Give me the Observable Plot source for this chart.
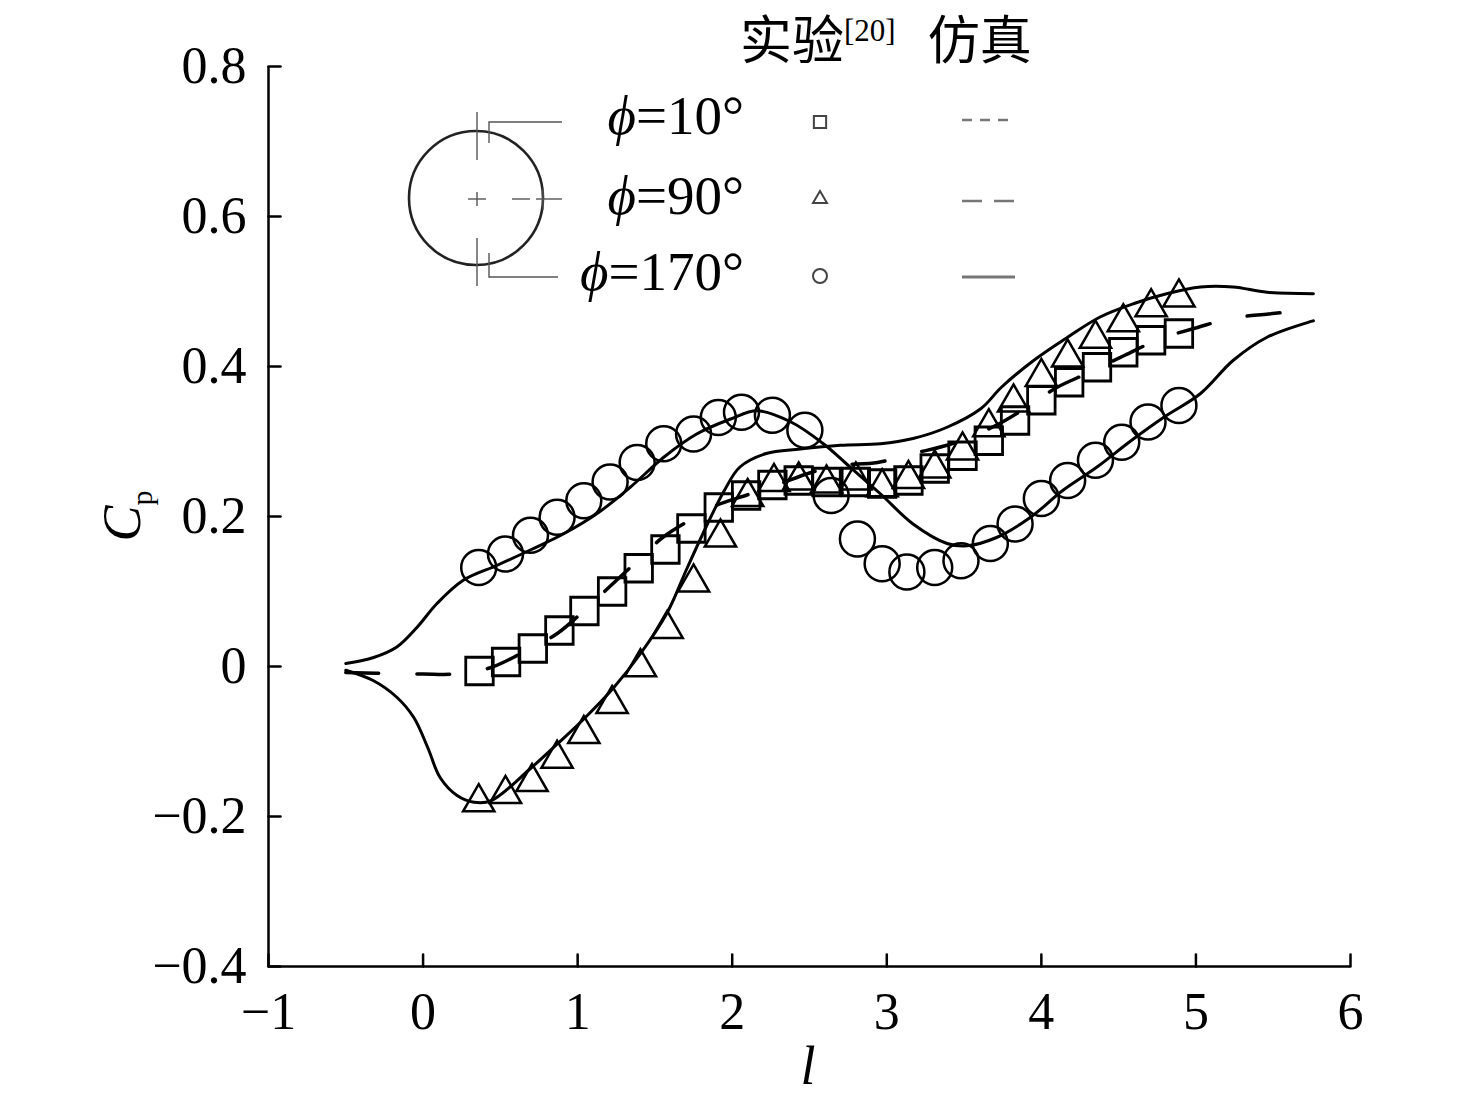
<!DOCTYPE html>
<html><head><meta charset="utf-8">
<script src="https://cdn.jsdelivr.net/npm/d3@7"></script>
<script src="https://cdn.jsdelivr.net/npm/@observablehq/plot@0.6"></script>
<style>body{margin:0;background:#fff} #chart svg{display:block}</style>
</head><body><div id="chart"></div>
<script>
// ---- tick values ----
const xTicks = [-1, 0, 1, 2, 3, 4, 5, 6];
const yTicks = [-0.4, -0.2, 0, 0.2, 0.4, 0.6, 0.8];

// ---- legend / series labels ----
const seriesLabels = ["ϕ=10°", "ϕ=90°", "ϕ=170°"];
const headerExp = "实验", headerRef = "[20]", headerSim = "仿真";

// ---- experiment [20]: phi = 10° (squares) ----
const expL10 = [0.365,0.537,0.71,0.882,1.044,1.223,1.395,1.568,1.736,1.913,2.09,2.26,2.43,2.61,2.80,2.97,3.14,3.31,3.49,3.66,3.83,4.00,4.18,4.36,4.53,4.71,4.89];
const expCp10 = [-0.006,0.006,0.024,0.048,0.074,0.100,0.131,0.156,0.184,0.212,0.228,0.242,0.248,0.246,0.246,0.244,0.248,0.264,0.281,0.301,0.328,0.355,0.379,0.399,0.419,0.435,0.444];

// ---- experiment [20]: phi = 90° (triangles) ----
const expL90 = [0.36,0.533,0.705,0.867,1.04,1.223,1.406,1.579,1.75,1.924,2.10,2.27,2.43,2.61,2.80,2.97,3.14,3.31,3.49,3.66,3.82,4.00,4.17,4.35,4.53,4.71,4.89];
const expCp90 = [-0.181,-0.170,-0.154,-0.123,-0.090,-0.050,-0.001,0.050,0.112,0.172,0.226,0.246,0.248,0.244,0.248,0.239,0.250,0.264,0.288,0.319,0.352,0.386,0.412,0.437,0.459,0.479,0.492];

// ---- experiment [20]: phi = 170° (circles) ----
const expL170 = [0.36,0.533,0.695,0.867,1.04,1.21,1.385,1.557,1.75,1.91,2.06,2.26,2.47,2.64,2.81,2.97,3.13,3.31,3.48,3.67,3.83,4.00,4.17,4.35,4.52,4.69,4.89];
const expCp170 = [0.132,0.150,0.175,0.199,0.221,0.246,0.272,0.297,0.310,0.332,0.339,0.335,0.315,0.228,0.170,0.137,0.126,0.132,0.141,0.164,0.190,0.224,0.248,0.275,0.299,0.326,0.348];

// ---- simulation: phi = 10° (dashed) ----
const simL10 = [-0.5,-0.3,0,0.2,0.43,0.63,0.868,1.10,1.33,1.55,1.75,1.9,2.1,2.3,2.5,2.68,2.94,3.17,3.39,3.56,3.73,3.9,4.1,4.31,4.54,4.77,5.01,5.22,5.47,5.72];
const simCp10 = [-0.008,-0.009,-0.010,-0.010,-0.002,0.017,0.044,0.086,0.130,0.172,0.198,0.215,0.229,0.243,0.258,0.268,0.272,0.284,0.295,0.308,0.324,0.345,0.372,0.392,0.415,0.437,0.452,0.464,0.470,0.475];

// ---- simulation: phi = 90° (solid) ----
const simL90 = [-0.5,-0.32,-0.17,-0.06,0.03,0.11,0.22,0.33,0.44,0.695,0.87,1.04,1.234,1.406,1.58,1.71,1.84,1.95,2.05,2.22,2.44,2.70,2.96,3.17,3.39,3.61,3.74,3.95,4.17,4.38,4.60,4.81,5.03,5.24,5.46,5.76];
const simCp90 = [-0.005,-0.019,-0.041,-0.068,-0.108,-0.148,-0.172,-0.181,-0.179,-0.136,-0.103,-0.070,-0.028,0.017,0.072,0.132,0.190,0.235,0.266,0.284,0.290,0.295,0.297,0.304,0.319,0.344,0.372,0.408,0.439,0.466,0.484,0.497,0.506,0.506,0.499,0.497];

// ---- simulation: phi = 170° (solid) ----
const simL170 = [-0.5,-0.32,-0.17,-0.04,0.09,0.26,0.48,0.69,0.91,1.126,1.34,1.557,1.77,1.99,2.16,2.38,2.59,2.74,2.96,3.17,3.39,3.52,3.71,3.93,4.14,4.36,4.58,4.79,5.03,5.24,5.46,5.76];
const simCp170 = [0.004,0.012,0.026,0.052,0.084,0.115,0.135,0.155,0.177,0.204,0.239,0.279,0.310,0.330,0.341,0.326,0.297,0.270,0.230,0.190,0.164,0.161,0.172,0.199,0.235,0.266,0.301,0.332,0.364,0.408,0.439,0.461];

const zip = (ls, cs) => ls.map((l, i) => ({l, cp: cs[i]}));
const exp10 = zip(expL10, expCp10), exp90 = zip(expL90, expCp90), exp170 = zip(expL170, expCp170);
const sim10 = zip(simL10, simCp10), sim90 = zip(simL90, simCp90), sim170 = zip(simL170, simCp170);

const fmt = d => d === 0 ? "0" : (d < 0 ? "\u2212" : "") + (Number.isInteger(d) ? String(Math.abs(d)) : Math.abs(d).toFixed(1));
const tickShape = {draw(ctx, l) { ctx.moveTo(0, 0); ctx.lineTo(0, -l); }};
const serif = "'Liberation Serif','Times New Roman',serif";

const chart = Plot.plot({
  width: 1476, height: 1106,
  marginLeft: 268, marginRight: 126, marginTop: 66, marginBottom: 140,
  style: {fontFamily: serif, fontSize: "52px", background: "#fff", color: "#000", overflow: "visible"},
  x: {domain: [-1, 6]},
  y: {domain: [-0.4, 0.8]},
  marks: [
    Plot.axisX({ticks: xTicks, tickSize: 0, tickPadding: 26, tickFormat: fmt, label: null, fontSize: 52}),
    Plot.axisY({ticks: yTicks, tickSize: 0, tickPadding: 22, tickFormat: fmt, label: null, fontSize: 52}),
    Plot.ruleY([-0.4], {stroke: "#000", strokeWidth: 2.5}),
    Plot.ruleX([-1], {stroke: "#000", strokeWidth: 2.5}),
    Plot.vector(xTicks, {x: d => d, y: -0.4, length: 12, anchor: "start", shape: tickShape, stroke: "#000", strokeWidth: 2.5}),
    Plot.vector(yTicks, {x: -1, y: d => d, length: 12, rotate: 90, anchor: "start", shape: tickShape, stroke: "#000", strokeWidth: 2.5}),
    Plot.line(sim170, {x: "l", y: "cp", curve: "catmull-rom", stroke: "#000", strokeWidth: 3}),
    Plot.line(sim90, {x: "l", y: "cp", curve: "catmull-rom", stroke: "#000", strokeWidth: 3}),
    Plot.line(sim10, {x: "l", y: "cp", curve: "catmull-rom", stroke: "#000", strokeWidth: 3.5, strokeDasharray: "33,38"}),
    Plot.dot(exp170, {x: "l", y: "cp", r: 17.5, symbol: "circle", stroke: "#000", strokeWidth: 2.5, fill: "none"}),
    Plot.dot(exp10, {x: "l", y: "cp", r: 15.5, symbol: "square", stroke: "#000", strokeWidth: 2.8, fill: "none"}),
    Plot.dot(exp90, {x: "l", y: "cp", r: 11.6, symbol: "triangle", stroke: "#000", strokeWidth: 2.5, fill: "none"})
  ]
});
document.getElementById("chart").appendChild(chart);

// ---- axis titles and legend (decorations drawn on the same SVG) ----
const svg = d3.select(chart);
const ns = svg.append("g").attr("font-family", serif).attr("fill", "#000").attr("text-anchor", "start");

// y title C_p
const yt = ns.append("text").attr("transform", "translate(140,516) rotate(-90)")
  .attr("text-anchor", "middle").attr("font-size", 54);
yt.append("tspan").attr("font-style", "italic").text("C");
yt.append("tspan").attr("font-size", 30).attr("dy", 12).text("p");
// x title l
ns.append("text").attr("x", 808).attr("y", 1084).attr("text-anchor", "middle")
  .attr("font-size", 54).attr("font-style", "italic").text("l");

// header
const hd = ns.append("text").attr("x", 740).attr("y", 59).attr("font-size", 52)
  .attr("text-anchor", "start").attr("font-family", "'Noto Sans CJK SC', sans-serif");
hd.append("tspan").text(headerExp);
hd.append("tspan").attr("font-family", serif).attr("font-size", 31).attr("dy", -18).text(headerRef);
hd.append("tspan").attr("dy", 18).attr("dx", 32).text(headerSim);

// series labels
const rowsY = [120, 199, 276];
const baseY = [134, 214, 290];
seriesLabels.forEach((s, i) => {
  const t = ns.append("text").attr("x", 744).attr("y", baseY[i]).attr("text-anchor", "end").attr("font-size", 55);
  const m = s.match(/^(ϕ)(.*)$/);
  t.append("tspan").attr("font-style", "italic").text(m[1]);
  t.append("tspan").text(m[2]);
});

// legend markers (experiment)
const lg = svg.append("g").attr("fill", "none").attr("stroke", "#444").attr("stroke-width", 2);
lg.append("path").attr("d", d3.symbol(d3.symbolSquare, 150)()).attr("transform", `translate(820,${rowsY[0] + 2})`);
lg.append("path").attr("d", d3.symbol(d3.symbolTriangle, 85)()).attr("transform", `translate(820,${rowsY[1]})`);
lg.append("circle").attr("cx", 820).attr("cy", rowsY[2]).attr("r", 7);
// legend lines (simulation)
const ll = svg.append("g").attr("stroke", "#777").attr("stroke-width", 2.5);
ll.append("line").attr("x1", 962).attr("x2", 1015).attr("y1", rowsY[0]).attr("y2", rowsY[0]).attr("stroke-dasharray", "10,8");
ll.append("line").attr("x1", 962).attr("x2", 1015).attr("y1", rowsY[1] + 2).attr("y2", rowsY[1] + 2).attr("stroke-dasharray", "20,12");
ll.append("line").attr("x1", 962).attr("x2", 1015).attr("y1", rowsY[2] + 1).attr("y2", rowsY[2] + 1).attr("stroke-width", 3);

// circle cross-section diagram
const cd = svg.append("g").attr("fill", "none");
cd.append("ellipse").attr("cx", 476).attr("cy", 198).attr("rx", 67).attr("ry", 67).attr("stroke", "#222").attr("stroke-width", 2.6);
const thin = cd.append("g").attr("stroke", "#555").attr("stroke-width", 1.4);
const seg = (x1, y1, x2, y2) => thin.append("line").attr("x1", x1).attr("y1", y1).attr("x2", x2).attr("y2", y2);
seg(477, 112, 477, 160);           // top mark
thin.append("polyline").attr("points", "489,143 489,122 562,122");
seg(468, 199, 486, 199); seg(477, 192, 477, 206);   // centre plus
seg(512, 199, 530, 199); seg(536, 199, 562, 199); seg(543, 188, 543, 210); // right mark
seg(477, 238, 477, 286);           // bottom mark
thin.append("polyline").attr("points", "489,253 489,277 558,277");
</script>
</body></html>
